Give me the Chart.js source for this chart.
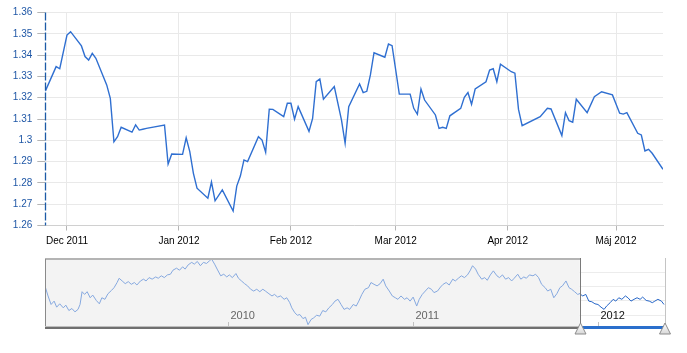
<!DOCTYPE html>
<html><head><meta charset="utf-8">
<script src="https://cdn.jsdelivr.net/npm/chart.js@4.4.1/dist/chart.umd.min.js"></script>
<style>
html,body{margin:0;padding:0;background:#fff;width:687px;height:353px;overflow:hidden}
canvas{position:absolute;left:0}
#main{top:0}
#nav{top:250px}
</style></head><body>
<canvas id="main" width="687" height="250"></canvas>
<canvas id="nav" width="687" height="103"></canvas>
<script>
// ---------- main chart data ----------
const mainDates = [
'2011-11-25','2011-11-28','2011-11-29','2011-12-01','2011-12-02','2011-12-05','2011-12-06','2011-12-07','2011-12-08','2011-12-09',
'2011-12-12','2011-12-13','2011-12-14','2011-12-15','2011-12-16','2011-12-19','2011-12-20','2011-12-21','2011-12-22','2011-12-23',
'2011-12-28','2011-12-29','2011-12-30','2012-01-02','2012-01-03','2012-01-04','2012-01-05','2012-01-06','2012-01-09','2012-01-10',
'2012-01-11','2012-01-13','2012-01-16','2012-01-17','2012-01-18','2012-01-19','2012-01-20','2012-01-23','2012-01-24','2012-01-25',
'2012-01-26','2012-01-27','2012-01-30','2012-01-31','2012-02-01','2012-02-02','2012-02-03','2012-02-06','2012-02-07','2012-02-08',
'2012-02-09','2012-02-10','2012-02-13','2012-02-15','2012-02-16','2012-02-17','2012-02-20','2012-02-21','2012-02-22','2012-02-23',
'2012-02-24','2012-02-27','2012-02-28','2012-02-29','2012-03-02','2012-03-05','2012-03-06','2012-03-07','2012-03-08','2012-03-09',
'2012-03-12','2012-03-13','2012-03-14','2012-03-15','2012-03-16','2012-03-19','2012-03-20','2012-03-21','2012-03-22','2012-03-23',
'2012-03-26','2012-03-27','2012-03-28','2012-03-29','2012-03-30','2012-04-02','2012-04-03','2012-04-04','2012-04-05','2012-04-10',
'2012-04-12','2012-04-13','2012-04-16','2012-04-17','2012-04-18','2012-04-19','2012-04-20','2012-04-23','2012-04-25','2012-04-27',
'2012-04-30','2012-05-02','2012-05-03','2012-05-04','2012-05-07','2012-05-08','2012-05-09','2012-05-10','2012-05-11','2012-05-14'];
const mainValues = [
1.3231,1.3346,1.3336,1.3494,1.3510,1.3443,1.3393,1.3377,1.3408,1.3385,
1.3260,1.3197,1.2993,1.3017,1.3061,1.3038,1.3072,1.3048,1.3052,1.3056,
1.3072,1.2889,1.2936,1.2934,1.3012,1.2947,1.2845,1.2775,1.2728,1.2804,
1.2716,1.2767,1.2668,1.2785,1.2832,1.2908,1.2900,1.3017,1.3001,1.2944,
1.3146,1.3145,1.3111,1.3174,1.3174,1.3099,1.3158,1.3042,1.3103,1.3275,
1.3288,1.3193,1.3252,1.3095,1.2986,1.3158,1.3264,1.3224,1.3230,1.3307,
1.3411,1.3390,1.3452,1.3444,1.3217,1.3217,1.3150,1.3122,1.3241,1.3189,
1.3119,1.3056,1.3061,1.3056,1.3115,1.3150,1.3202,1.3224,1.3169,1.3241,
1.3275,1.3330,1.3336,1.3275,1.3357,1.3322,1.3315,1.3145,1.3069,1.3111,
1.3150,1.3147,1.3022,1.3130,1.3092,1.3085,1.3193,1.3130,1.3205,1.3228,
1.3213,1.3127,1.3123,1.3130,1.3033,1.3025,1.2950,1.2958,1.2939,1.2864];
const mainRange = ['2011-11-25','2012-05-14'];
const yMin = 1.26, yMax = 1.36, yStep = 0.01;
const monthTickDates = ['2011-12-01','2012-01-01','2012-02-01','2012-03-01','2012-04-01','2012-05-01'];
const monthTickLabels = ['Dec 2011','Jan 2012','Feb 2012','Mar 2012','Apr 2012','Máj 2012'];

// ---------- navigator data (days since navStart) ----------
const navStart = '2009-01-01';
const navDays = [
5,6,11,17,23,28,34,41,46,52,58,64,70,74,78,83,88,94,99,106,112,117,123,129,136,141,147,151,157,163,
169,175,181,186,193,199,204,210,216,223,228,234,240,246,252,257,264,270,276,281,287,294,299,305,311,317,323,329,333,339,
344,351,357,363,368,374,381,386,392,398,404,410,416,422,428,434,439,446,452,457,463,469,476,481,487,491,497,502,507,513,
518,523,529,534,540,546,552,558,564,571,576,582,588,594,600,605,612,618,623,629,635,642,647,653,659,665,671,676,683,689,
695,700,706,713,718,724,730,737,742,748,754,760,766,771,778,784,789,795,801,808,813,819,825,831,837,842,847,853,858,865,
871,876,882,888,895,900,906,912,918,924,929,936,942,948,953,959,966,971,977,983,990,995,1001,1007,1013,1019,1024,1031,1037,1042,
1048,1054,1058,1064,1070,1076,1082,1088,1094,1100,1106,1111,1118,1124,1129,1135,1141,1148,1153,1159,1165,1171,1177,1182,1189,1195,1201,1206,1212,1219,1224];
const navValues = [
1.343,1.350,1.313,1.275,1.290,1.263,1.278,1.260,1.272,1.248,1.257,1.242,1.253,1.275,1.332,1.320,1.332,1.305,1.317,1.293,1.278,1.305,1.298,1.323,1.338,1.350,1.373,1.392,1.380,1.368,
1.377,1.365,1.373,1.362,1.380,1.388,1.380,1.395,1.388,1.398,1.392,1.403,1.395,1.407,1.410,1.428,1.437,1.428,1.443,1.433,1.452,1.463,1.455,1.467,1.448,1.463,1.458,1.470,1.478,1.455,
1.433,1.403,1.410,1.398,1.407,1.395,1.413,1.392,1.380,1.368,1.358,1.343,1.335,1.343,1.332,1.343,1.335,1.323,1.313,1.320,1.308,1.313,1.298,1.305,1.283,1.260,1.238,1.227,1.230,1.212,
1.218,1.185,1.208,1.215,1.227,1.223,1.248,1.242,1.260,1.275,1.290,1.298,1.275,1.253,1.260,1.253,1.275,1.268,1.290,1.320,1.343,1.350,1.373,1.365,1.358,1.368,1.388,1.358,1.335,1.313,
1.305,1.298,1.313,1.298,1.305,1.290,1.308,1.268,1.298,1.320,1.335,1.350,1.343,1.328,1.335,1.353,1.365,1.373,1.362,1.388,1.380,1.392,1.403,1.395,1.407,1.425,1.448,1.433,1.410,1.388,
1.395,1.383,1.407,1.425,1.403,1.395,1.407,1.388,1.395,1.380,1.392,1.410,1.388,1.398,1.392,1.407,1.403,1.410,1.395,1.365,1.350,1.335,1.343,1.305,1.323,1.350,1.358,1.380,1.350,1.343,
1.332,1.320,1.323,1.313,1.320,1.290,1.287,1.278,1.275,1.263,1.253,1.268,1.283,1.298,1.290,1.305,1.298,1.313,1.305,1.290,1.298,1.305,1.298,1.308,1.293,1.290,1.283,1.290,1.298,1.290,1.275];
const navRange = [5, 1226];
const navSelectionStart = 1058;
const navYMin = 1.170, navYMax = 1.478;
const navGridValues = [1.419, 1.355, 1.291, 1.227];
const yearTickDays = [365, 730, 1095];
const yearTickLabels = ['2010', '2011', '2012'];

// ---------- helpers ----------
const toDay = s => Date.UTC(+s.slice(0,4), +s.slice(5,7)-1, +s.slice(8,10)) / 864e5;
const navBase = toDay(navStart);
const FONT = '"Liberation Sans", Arial, sans-serif';
Chart.defaults.font.family = FONT;

// dashed vertical axis line on the left of the main plot
const dashedAxis = {
  id: 'dashedAxis',
  afterDatasetsDraw(chart) {
    const {ctx, chartArea: a} = chart;
    const x = Math.round(a.left) + 0.5;
    ctx.save();
    ctx.strokeStyle = '#1c5aa6';
    ctx.lineWidth = 1.3;
    ctx.setLineDash([8, 2]);
    ctx.beginPath(); ctx.moveTo(x, a.top); ctx.lineTo(x, a.bottom); ctx.stroke();
    ctx.restore();
  }
};

// ---------- main chart ----------
new Chart(document.getElementById('main'), {
  type: 'line',
  data: {
    datasets: [{
      data: mainDates.map((d, i) => ({x: toDay(d), y: mainValues[i]})),
      borderColor: '#2f6fd1',
      borderWidth: 1.4,
      pointRadius: 0,
      tension: 0,
      fill: false
    }]
  },
  plugins: [dashedAxis],
  options: {
    responsive: false,
    animation: false,
    events: [],
    layout: {padding: {left: 0, right: 24, top: 12.5, bottom: 0}},
    plugins: {legend: {display: false}, tooltip: {enabled: false}},
    scales: {
      x: {
        type: 'linear',
        min: toDay(mainRange[0]),
        max: toDay(mainRange[1]),
        afterBuildTicks: s => { s.ticks = monthTickDates.map(d => ({value: toDay(d)})); },
        afterFit: s => { s.height = 24.5; },
        ticks: {
          autoSkip: false, maxRotation: 0, padding: 5,
          color: '#000', font: {size: 10},
          callback: (v, i) => monthTickLabels[i]
        },
        grid: {color: '#e9e9e9', tickColor: '#b5b5b5', tickLength: 5},
        border: {color: '#d0d0d0'}
      },
      y: {
        min: yMin, max: yMax,
        afterFit: s => { s.width = 45.3; },
        ticks: {
          stepSize: yStep, padding: 5,
          color: '#1f57a6', font: {size: 10},
          callback: v => String(+v.toFixed(2))
        },
        grid: {color: '#e9e9e9', tickColor: '#b5b5b5', tickLength: 8},
        border: {display: false}
      }
    }
  }
});

// ---------- navigator ----------
const navDecor = {
  id: 'navDecor',
  beforeDatasetsDraw(chart) {
    const {ctx, chartArea: a, scales: {x}} = chart;
    const xs = x.getPixelForValue(navBase + navSelectionStart);
    ctx.save();
    ctx.fillStyle = '#f3f3f3';
    ctx.fillRect(a.left, a.top, xs - a.left, a.bottom - a.top);
    ctx.restore();
  },
  afterDatasetsDraw(chart) {
    const {ctx, chartArea: a, scales: {x}} = chart;
    const xs = Math.round(x.getPixelForValue(navBase + navSelectionStart)) + 0.5;
    ctx.save();
    ctx.fillStyle = '#b4b4b4';
    ctx.fillRect(a.left, a.top - 1, xs - a.left, 2);
    ctx.strokeStyle = '#8a8a8a'; ctx.lineWidth = 1;
    ctx.beginPath(); ctx.moveTo(a.left + 0.5, a.top); ctx.lineTo(a.left + 0.5, a.bottom); ctx.stroke();
    ctx.strokeStyle = '#7a7a7a';
    ctx.beginPath(); ctx.moveTo(xs, a.top - 1); ctx.lineTo(xs, a.bottom); ctx.stroke();
    ctx.strokeStyle = '#c4c4c4';
    ctx.beginPath(); ctx.moveTo(a.right + 0.5, a.top - 1); ctx.lineTo(a.right + 0.5, a.bottom); ctx.stroke();
    yearTickDays.forEach((d, i) => {
      const px = Math.round(x.getPixelForValue(navBase + d)) + 0.5;
      ctx.strokeStyle = '#c0c0c0';
      ctx.beginPath(); ctx.moveTo(px, a.bottom - 6); ctx.lineTo(px, a.bottom); ctx.stroke();
      ctx.fillStyle = d >= navSelectionStart ? '#111' : '#666';
      ctx.font = '11px ' + FONT;
      ctx.textAlign = 'left'; ctx.textBaseline = 'alphabetic';
      ctx.fillText(yearTickLabels[i], px + 2, a.bottom - 9);
    });
    ctx.fillStyle = '#bdbdbd';
    ctx.fillRect(a.left, a.bottom - 2, xs - a.left, 1);
    ctx.fillStyle = '#6f6f6f';
    ctx.fillRect(a.left, a.bottom - 1, xs - a.left, 2);
    ctx.fillStyle = '#2a6fcc';
    ctx.fillRect(xs, a.bottom - 2, a.right - xs, 3);
    [xs, a.right].forEach(px => {
      ctx.beginPath();
      ctx.moveTo(px, a.bottom - 5);
      ctx.lineTo(px + 5.5, a.bottom + 6);
      ctx.lineTo(px - 5.5, a.bottom + 6);
      ctx.closePath();
      const g = ctx.createLinearGradient(0, a.bottom - 5, 0, a.bottom + 6);
      g.addColorStop(0, '#ffffff'); g.addColorStop(1, '#d8d8d8');
      ctx.fillStyle = g; ctx.fill();
      ctx.strokeStyle = '#8c8c8c'; ctx.lineWidth = 1; ctx.stroke();
    });
    ctx.restore();
  }
};

new Chart(document.getElementById('nav'), {
  type: 'line',
  data: {
    datasets: [{
      data: navDays.map((d, i) => ({x: navBase + d, y: navValues[i]})),
      borderWidth: 1,
      pointRadius: 0,
      tension: 0,
      fill: false,
      borderColor: '#2565c7',
      segment: {
        borderColor: c => c.p0.parsed.x >= navBase + navSelectionStart ? '#2565c7' : '#86a9e0'
      }
    }]
  },
  plugins: [navDecor],
  options: {
    responsive: false,
    animation: false,
    events: [],
    layout: {padding: {left: 45, right: 22, top: 9, bottom: 25}},
    plugins: {legend: {display: false}, tooltip: {enabled: false}},
    scales: {
      x: {type: 'linear', display: false, min: navBase + navRange[0], max: navBase + navRange[1]},
      y: {
        min: navYMin, max: navYMax,
        afterBuildTicks: s => { s.ticks = navGridValues.map(v => ({value: v})); },
        afterFit: s => { s.width = 0; },
        ticks: {display: false},
        grid: {color: '#ececec', drawTicks: false},
        border: {display: false}
      }
    }
  }
});
</script>
</body></html>
